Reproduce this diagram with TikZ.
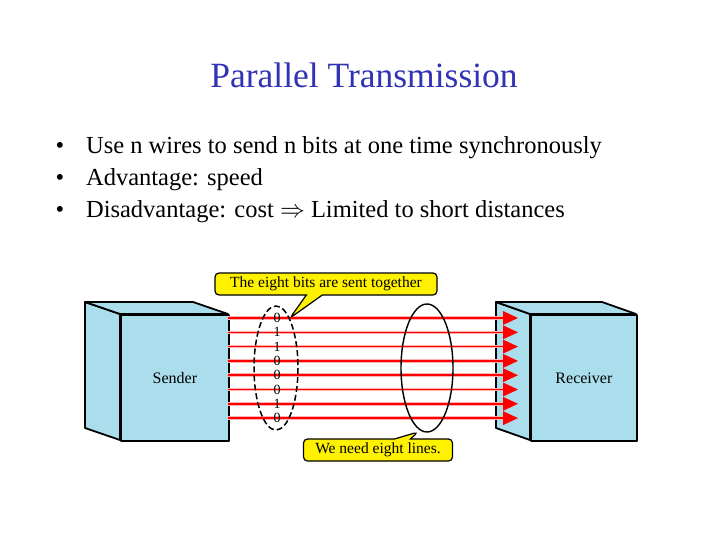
\documentclass[tikz,border=0pt]{standalone}
\usepackage{fontspec}
\setmainfont{Liberation Serif}
\usetikzlibrary{shapes.callouts}
\definecolor{ttl}{RGB}{50,50,180}
\definecolor{boxc}{RGB}{170,222,236}
\begin{document}
\begin{tikzpicture}[x=1pt,y=-1pt,
  box/.style={draw=black,line width=1.8pt,fill=boxc,line join=round},
  wire/.style={draw=red,line width=1.6pt},
  tip/.style={fill=red,draw=none},
  callbox/.style={rectangle callout,draw=black,line width=1.2pt,fill=yellow,rounded corners=4pt,font=\fontsize{15.5}{16}\selectfont,inner sep=3pt,minimum height=22pt,callout pointer width=16pt}]
\useasboundingbox (0,0) rectangle (728,546);
\node[text=ttl,font=\fontsize{35.5}{40}\selectfont] (title) at (364,75) {Parallel Transmission};
\begin{scope}[font=\fontsize{24.5}{28}\selectfont]
\node[anchor=west] (b1) at (52,148) {•\hspace{22pt}Use n wires to send n bits at one time synchronously};
\node[anchor=west] (b2) at (52,180) {•\hspace{22pt}Advantage: speed};
\node[anchor=west] (b3) at (52,212) {•\hspace{22pt}Disadvantage: cost $\Rightarrow$ Limited to short distances};
\end{scope}
% sender
\path[box] (85,302) -- (120,314) -- (120,440) -- (85,428) -- cycle;
\path[box] (85,302) -- (193,302) -- (228,314) -- (120,314) -- cycle;
\node[box,minimum width=108pt,minimum height=126pt,anchor=north west,inner sep=0pt,font=\fontsize{16}{16}\selectfont] (snd) at (120,314) {Sender};
% receiver
\path[box] (496,302) -- (530,314) -- (530,440) -- (496,428) -- cycle;
\path[box] (496,302) -- (602,302) -- (636,314) -- (530,314) -- cycle;
\node[box,minimum width=106pt,minimum height=126pt,anchor=north west,inner sep=0pt,font=\fontsize{16}{16}\selectfont] (rcv) at (530,314) {Receiver};
% wires
\foreach \i/\b in {0/0,1/1,2/1,3/0,4/0,5/0,6/1,7/0}{
  \pgfmathsetmacro{\yy}{318+14.3*\i}
  \coordinate (w\i) at (228,\yy);
  \coordinate (e\i) at (503,\yy);
  \draw[red!30,line width=3.5pt] (w\i) -- (e\i);
  \draw[wire] (w\i) -- (e\i);
  \path[tip] (503,\yy-7) -- (518,\yy) -- (503,\yy+7) -- cycle;
  \node[font=\fontsize{14}{14}\selectfont,inner sep=0pt] (bit\i) at (277,\yy) {\b};
}
\draw[line width=1.5pt,dash pattern=on 6pt off 3pt] (276,368) ellipse [x radius=22, y radius=62];
\draw[line width=1.4pt] (427,368) ellipse [x radius=26, y radius=64];
\node[callbox,callout absolute pointer={(290,318)},minimum width=222pt] (c1) at (326,284) {The eight bits are sent together};
\node[callbox,callout absolute pointer={(418,432)},minimum width=149pt] (c2) at (378,450) {We need eight lines.};
\end{tikzpicture}
\end{document}
